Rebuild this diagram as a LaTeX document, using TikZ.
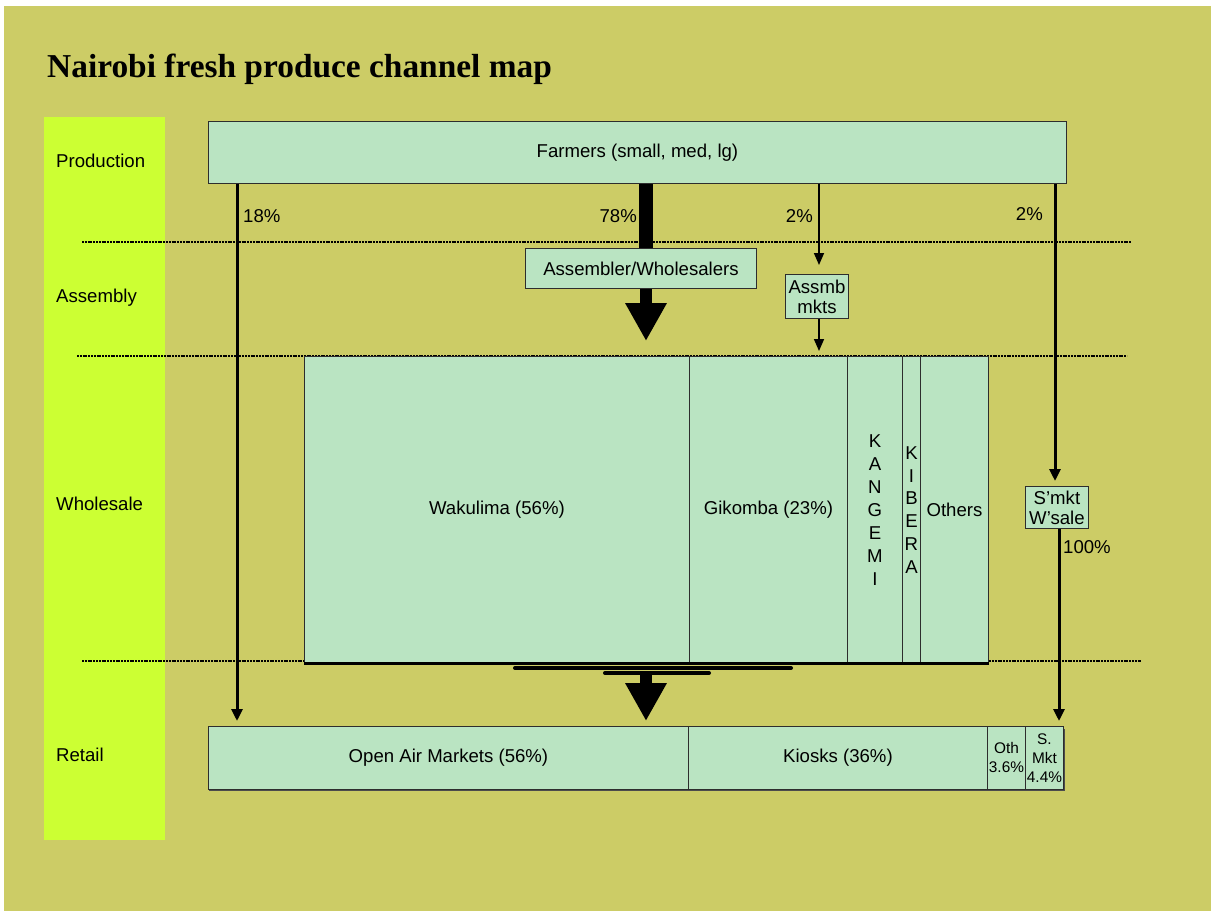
\documentclass[tikz,border=0pt]{standalone}
\usepackage{fontspec}
\setmainfont{Liberation Sans}
\newfontfamily\titlefont{Liberation Serif}
\usetikzlibrary{arrows.meta}

\definecolor{bgolive}{RGB}{204,204,102}
\definecolor{bglime}{RGB}{204,255,51}
\definecolor{boxmint}{RGB}{186,228,194}
\definecolor{boxedge}{RGB}{45,45,45}

\newcommand{\smallfont}{\fontsize{15.4}{19}\selectfont}

\begin{document}
\begin{tikzpicture}[x=1pt, y=-1pt,
    every node/.style={font=\fontsize{18.6}{20}\selectfont},
    box/.style={draw=boxedge, fill=boxmint, line width=0.9pt, inner sep=0pt,
      anchor=north west, align=center},
    lvl/.style={anchor=west, inner sep=0pt},
    pct/.style={inner sep=0pt},
    sep/.style={line width=2pt, dash pattern=on 2pt off 0.8pt},
    flow/.style={line width=3pt, -{Triangle[width=11pt,length=12pt]}},
    thin flow/.style={line width=1.6pt, -{Triangle[width=10pt,length=12pt]}},
    bulk/.style={line width=12pt, -{Triangle[width=39pt,length=38pt]}},
    bar/.style={line width=4pt, line cap=round}]
  \useasboundingbox (0,0) rectangle (1211,911);

  % --- fundo ---
  \fill[white] (0,0) rectangle (1211,911);
  \fill[bgolive] (4,6) rectangle (1211,911);
  \fill[bglime] (44,117) rectangle (165,840);

  \node[anchor=base west, inner sep=0pt,
    font=\titlefont\bfseries\fontsize{33.4}{36}\selectfont] (title) at (47,77)
    {Nairobi fresh produce channel map};

  % --- separadores entre niveis ---
  \draw[sep] (82,242) -- (1131,242);
  \draw[sep] (77,356) -- (1127,356);
  \draw[sep] (82,661) -- (1141,661);

  % --- niveis ---
  \node[lvl] (production) at (56,161) {Production};
  \node[lvl] (assembly)   at (56,298) {Assembly};
  \node[lvl] (wholesale)  at (56,504) {Wholesale};
  \node[lvl] (retail)     at (56,755) {Retail};

  % --- producao e montagem ---
  \node[box, minimum width=858pt, minimum height=62pt] (farmers) at (208,121)
    {Farmers (small, med, lg)};
  \node[box, minimum width=231pt, minimum height=40pt] (assembler) at (525,248)
    {Assembler/Wholesalers};
  \node[box, minimum width=63pt, minimum height=44pt] (assmkt) at (785,274)
    {Assmb\\mkts};
  \node[box, minimum width=63pt, minimum height=42pt] (smwsale) at (1025,486)
    {S’mkt\\W’sale};

  % --- mercados grossistas ---
  \node[box, minimum width=385pt, minimum height=307pt] (wakulima) at (304,356)
    {Wakulima (56\%)};
  \node[box, minimum width=158pt, minimum height=307pt] (gikomba) at (689,356)
    {Gikomba (23\%)};
  \node[box, minimum width=55pt, minimum height=307pt,
    font=\fontsize{18.6}{22.9}\selectfont] (kangemi) at (847,356)
    {K\\A\\N\\G\\E\\M\\I};
  \node[box, minimum width=18pt, minimum height=307pt,
    font=\fontsize{18.6}{22.9}\selectfont] (kibera) at (902,356)
    {K\\I\\B\\E\\R\\A};
  \node[box, minimum width=68pt, minimum height=307pt] (others) at (920,356)
    {Others};

  % --- retalho (com sombra) ---
  \fill[black!70] (209,729) rectangle (1065,791);
  \node[box, minimum width=480pt, minimum height=63pt] (openair) at (208,726)
    {Open Air Markets (56\%)};
  \node[box, minimum width=299pt, minimum height=63pt] (kiosks) at (688,726)
    {Kiosks (36\%)};
  \node[box, minimum width=38pt, minimum height=63pt, font=\smallfont] (othret) at (987,726)
    {Oth\\3.6\%};
  \node[box, minimum width=38pt, minimum height=63pt, font=\smallfont] (smkt) at (1025,726)
    {S.\\Mkt\\4.4\%};

  % --- fluxos ---
  \coordinate (x18)  at (237,0);
  \coordinate (x78)  at (646,0);
  \coordinate (x2a)  at (819,0);
  \coordinate (x2b)  at (1055,0);
  \coordinate (x100) at (1059,0);

  \draw[flow, shorten >=5pt] (farmers.south -| x18) -- (openair.north -| x18);
  \draw[line width=14pt] (farmers.south -| x78) -- (assembler.north -| x78);
  \draw[bulk, shorten >=15pt] (assembler.south -| x78) -- (wakulima.north -| x78);
  \draw[thin flow, shorten >=9pt] (farmers.south -| x2a) -- (assmkt.north -| x2a);
  \draw[thin flow, shorten >=5pt] (assmkt.south -| x2a) -- (gikomba.north -| x2a);
  \draw[flow, shorten >=5pt] (farmers.south -| x2b) -- (smwsale.north -| x2b);
  \draw[flow, shorten >=5pt] (smwsale.south -| x100) -- (smkt.north -| x100);

  % barra de agregacao grossista -> retalho
  \draw[line width=3pt] (wakulima.south west) -- (others.south east);
  \draw[bar] (515,668) -- (791,668);
  \draw[bar] (605,673) -- (709,673);
  \coordinate (bulktop) at (646,673);
  \draw[bulk, shorten >=5pt] (bulktop) -- (openair.north -| x78);

  % --- percentagens ---
  \node[pct, anchor=west] (p18)  at (243,216) {18\%};
  \node[pct, anchor=east] (p78)  at (637,216) {78\%};
  \node[pct, anchor=east] (p2a)  at (813,216) {2\%};
  \node[pct, anchor=east] (p2b)  at (1043,214) {2\%};
  \node[pct, anchor=west] (p100) at (1063,547) {100\%};
\end{tikzpicture}
\end{document}
